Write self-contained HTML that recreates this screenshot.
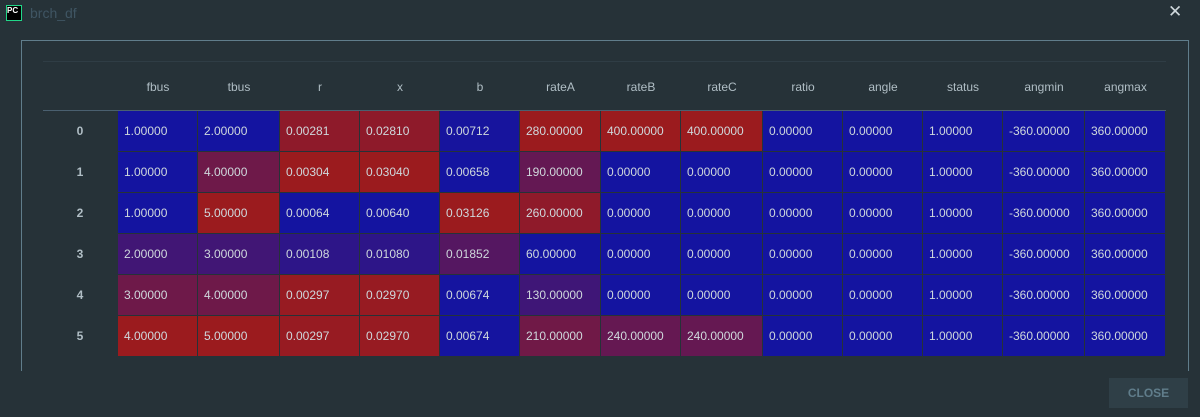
<!DOCTYPE html>
<html><head><meta charset="utf-8"><style>
body{margin:0;width:1200px;height:417px;background:#263238;font-family:"Liberation Sans",sans-serif;position:relative;overflow:hidden}
.title{position:absolute;left:30px;top:5px;color:#3f5563;font-size:14px}
.logo{position:absolute;left:6px;top:5px;width:14px;height:14px;background:#000;border:1px solid #21d789;color:#fff;font-size:8px;font-weight:bold;line-height:9px;text-align:left}
.xbtn{position:absolute;left:1168px;top:2px;color:#cfd8dc;font-size:17px}
.frame{position:absolute;left:21px;top:40px;width:1166px;height:330px;border-top:1px solid #607d8b;border-left:1px solid #607d8b;border-right:1px solid #607d8b}
.hdr{position:absolute;left:43px;top:61px;width:1123px;height:48px;border-bottom:1px solid #4a6070;border-top:1px solid #2f3d45}
.cell{position:absolute;box-sizing:border-box;color:#cfd8dc;font-size:12px;line-height:40px;padding-left:6px;border-right:1px solid #263238;border-bottom:1px solid #263238}
.hcell{position:absolute;color:#b0bec5;font-size:12px;text-align:center;top:80px}
.idx{position:absolute;color:#b0bec5;font-size:12px;font-weight:bold;text-align:center;width:74px;left:43px}
.close{position:absolute;left:1109px;top:378px;width:79px;height:30px;background:#2f3f47;color:#607d8b;font-weight:bold;font-size:12px;text-align:center;line-height:30px}
</style></head><body>
<div class="logo">PC</div>
<div class="title">brch_df</div>
<div class="xbtn">✕</div>
<div class="frame"></div>
<div class="hdr"></div>
<div id="tbl"></div>
<div class="close">CLOSE</div>
<script>
const columns=["fbus","tbus","r","x","b","rateA","rateB","rateC","ratio","angle","status","angmin","angmax"];
const rowIndex=[0,1,2,3,4,5];
const fbus=[1,1,1,2,3,4];
const tbus=[2,4,5,3,4,5];
const rVals=[0.00281,0.00304,0.00064,0.00108,0.00297,0.00297];
const xVals=[0.02810,0.03040,0.00640,0.01080,0.02970,0.02970];
const bVals=[0.00712,0.00658,0.03126,0.01852,0.00674,0.00674];
const rateA=[280,190,260,60,130,210];
const rateB=[400,0,0,0,0,240];
const rateC=[400,0,0,0,0,240];
const ratio=[0,0,0,0,0,0];
const angle=[0,0,0,0,0,0];
const status=[1,1,1,1,1,1];
const angmin=[-360,-360,-360,-360,-360,-360];
const angmax=[360,360,360,360,360,360];
const series=[fbus,tbus,rVals,xVals,bVals,rateA,rateB,rateC,ratio,angle,status,angmin,angmax];
const colX=[118,198,280,360,440,520,601,681,763,843,923,1003,1085,1166];
const rowY=[111,152,193,234,275,316,357];
const blue=[20,20,160],red=[155,27,30];
const tbl=document.getElementById('tbl');
columns.forEach((c,i)=>{
 const h=document.createElement('div');h.className='hcell';
 
 
 h.style.left=colX[i]+'px';h.style.width=(colX[i+1]-colX[i])+'px';h.textContent=c;tbl.appendChild(h);
});
rowIndex.forEach((r,j)=>{
 const d=document.createElement('div');d.className='idx';
 
 
 d.style.top=rowY[j]+'px';d.style.lineHeight=(rowY[j+1]-rowY[j])+'px';d.textContent=r;tbl.appendChild(d);
});
series.forEach((vals,i)=>{
 const mn=Math.min(...vals),mx=Math.max(...vals);
 vals.forEach((v,j)=>{
  const t=mx>mn?(v-mn)/(mx-mn):0;
  const col=blue.map((b,k)=>Math.round(b+(red[k]-b)*t));
  const d=document.createElement('div');d.className='cell';
  
  
  d.style.left=colX[i]+'px';d.style.top=rowY[j]+'px';
  d.style.width=(colX[i+1]-colX[i])+'px';d.style.height=(rowY[j+1]-rowY[j])+'px';
  d.style.background='rgb('+col.join(',')+')';
  d.textContent=v.toFixed(5);tbl.appendChild(d);
 });
});
</script>
</body></html>
